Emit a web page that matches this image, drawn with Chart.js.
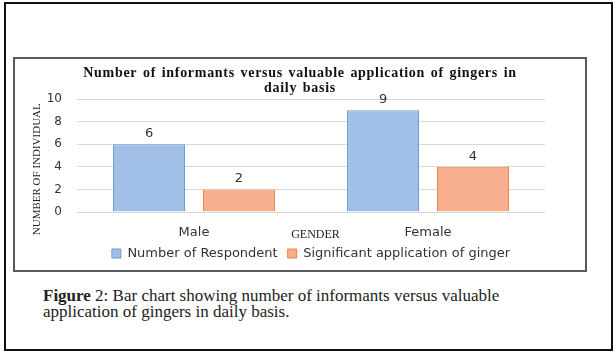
<!DOCTYPE html>
<html>
<head>
<meta charset="utf-8">
<script src="https://cdn.jsdelivr.net/npm/chart.js@4/dist/chart.umd.min.js"></script>
<style>
  html, body { margin: 0; padding: 0; background: #fff; }
  body { width: 616px; height: 355px; position: relative; overflow: hidden; }
  #outer { position: absolute; left: 4px; top: 2px; width: 609px; height: 349px; box-sizing: border-box; border: 2px solid #111; }
  #inner { position: absolute; left: 13px; top: 57px; width: 574px; height: 215px; box-sizing: border-box; border: 2px solid #5a5a5a; }
  #wrap { position: absolute; left: 15px; top: 59px; width: 570px; height: 211px; }
  #caption { position: absolute; left: 43px; top: 288px; font-family: "Liberation Serif", serif; font-size: 17px; line-height: 16px; color: #222; white-space: nowrap; }
  #caption b { font-weight: bold; }
</style>
</head>
<body>
<div id="outer"></div>
<div id="inner"></div>
<div id="wrap"><canvas id="c"></canvas></div>
<div id="caption"><b>Figure</b> 2: Bar chart showing number of informants versus valuable<br>application of gingers in daily basis.</div>
<script>
const categories = ["Male", "Female"];
const respondents = [6, 9];
const significantUse = [2, 4];
const seriesNames = ["Number of Respondent", "Significant application of ginger"];
const yTicks = [0, 2, 4, 6, 8, 10];

const valueLabels = {
  id: 'valueLabels',
  afterDatasetsDraw(chart) {
    const ctx = chart.ctx;
    ctx.save();
    ctx.font = '13px "DejaVu Sans"';
    ctx.fillStyle = '#333';
    ctx.textAlign = 'center';
    ctx.textBaseline = 'bottom';
    chart.data.datasets.forEach((ds, i) => {
      chart.getDatasetMeta(i).data.forEach((bar, j) => {
        ctx.fillText(String(ds.data[j]), bar.x, bar.y - 4);
      });
    });
    ctx.restore();
  }
};

const chart = new Chart(document.getElementById('c'), {
  type: 'bar',
  data: {
    labels: categories,
    datasets: [
      { label: seriesNames[0], data: respondents, backgroundColor: '#a2c0e7', borderColor: '#6f9cd6', borderWidth: 1 },
      { label: seriesNames[1], data: significantUse, backgroundColor: '#f6ae8d', borderColor: '#ee8445', borderWidth: 1 }
    ]
  },
  options: {
    responsive: true,
    maintainAspectRatio: false,
    animation: false,
    layout: { padding: 0 },
    datasets: { bar: { categoryPercentage: 0.769, barPercentage: 0.8 } },
    plugins: {
      title: {
        display: true,
        text: ["Number of informants versus valuable application of gingers in", "daily basis"],
        font: { family: '"Liberation Serif"', size: 14, weight: 'bold', lineHeight: '15px' },
        color: '#111',
        padding: { top: 6.5, bottom: 3.5 }
      },
      legend: {
        position: 'bottom',
        fullSize: false,
        labels: {
          font: { family: '"DejaVu Sans"', size: 13 },
          color: '#333',
          boxWidth: 9,
          boxHeight: 9,
          padding: 10
        }
      },
      tooltip: { enabled: false }
    },
    scales: {
      x: {
        grid: { display: false, drawTicks: false },
        border: { display: false },
        ticks: { font: { family: '"DejaVu Sans"', size: 13 }, color: '#333', padding: 13 },
        title: {
          display: true,
          text: '   GENDER',
          font: { family: '"Liberation Serif"', size: 12 },
          color: '#222',
          padding: { top: 0, bottom: -4.6 }
        },
        afterFit(scale) { scale.height = 25; }
      },
      y: {
        min: 0,
        max: 10,
        afterBuildTicks(scale) { scale.ticks = yTicks.map(v => ({ value: v })); },
        grid: { color: '#d9d9d9', drawTicks: false, lineWidth: 1 },
        border: { display: false },
        ticks: { font: { family: '"DejaVu Sans"', size: 12 }, color: '#333', padding: 15 },
        title: {
          display: true,
          text: 'NUMBER OF INDIVIDUAL\u2003\u2003  ',
          font: { family: '"Liberation Serif"', size: 11 },
          color: '#222',
          padding: { top: 15.2, bottom: 0 }
        },
        afterFit(scale) { scale.width = 62; }
      },
      yRight: {
        position: 'right',
        display: true,
        min: 0,
        max: 10,
        grid: { display: false, drawTicks: false },
        border: { display: false },
        ticks: { display: false },
        afterFit(scale) { scale.width = 40; }
      }
    }
  },
  plugins: [valueLabels]
});

// widen the chart title's letter and word spacing like the original
const tb = chart.titleBlock;
if (tb) {
  const origDraw = tb.draw.bind(tb);
  tb.draw = function () {
    const ctx = chart.ctx;
    ctx.save();
    try { ctx.letterSpacing = '0.7px'; ctx.wordSpacing = '1.5px'; } catch (e) {}
    origDraw();
    ctx.restore();
  };
  chart.draw();
}
</script>
</body>
</html>
